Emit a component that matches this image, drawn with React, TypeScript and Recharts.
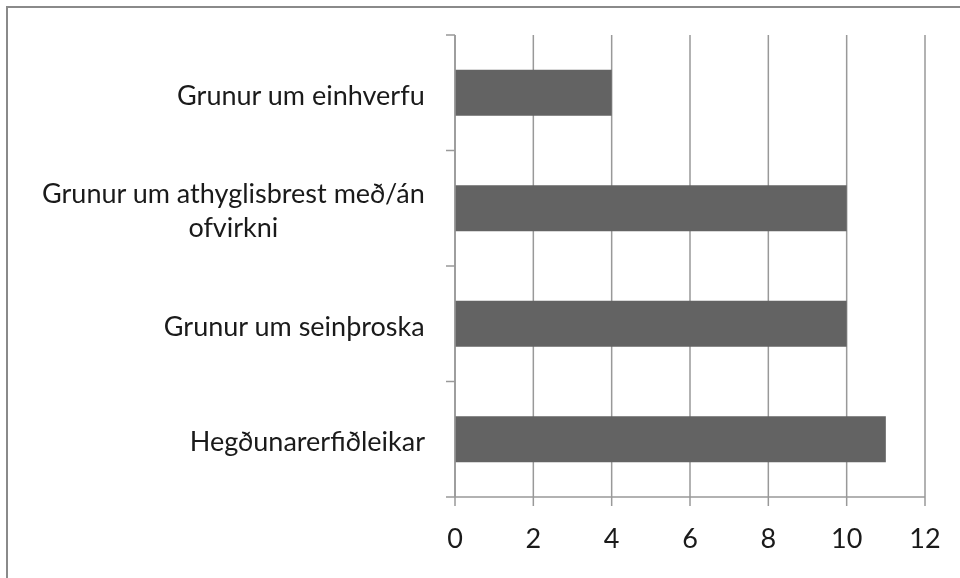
import { BarChart, Bar, XAxis, YAxis, CartesianGrid } from 'recharts';

const categories = [
  'Grunur um einhverfu',
  'Grunur um athyglisbrest með/án ofvirkni',
  'Grunur um seinþroska',
  'Hegðunarerfiðleikar',
];
const values = [4, 10, 10, 11];
const xTicks = [0, 2, 4, 6, 8, 10, 12];

const data = categories.map((name, i) => ({ name, value: values[i] }));

const FONT = 'Lato';
const FONT_SIZE = 27;
const TEXT = '#1a1a1a';
const LINE = '#999999';
const FRAME = '#8a8a8a';
const LABEL_GAP = 30; // from axis line to right edge of label
const TICK_LEN = 9;
const MAX_LABEL_W = 420;

let ctx: CanvasRenderingContext2D | null = null;
function measure(s: string) {
  if (!ctx) ctx = document.createElement('canvas').getContext('2d');
  if (!ctx) return s.length * FONT_SIZE * 0.5;
  ctx.font = `${FONT_SIZE}px ${FONT}`;
  return ctx.measureText(s).width;
}

function wrap(label: string) {
  const words = label.split(' ');
  const lines: string[] = [];
  let cur = '';
  words.forEach((w) => {
    const next = cur ? cur + ' ' + w : w;
    if (cur && measure(next) > MAX_LABEL_W) {
      lines.push(cur);
      cur = w;
    } else {
      cur = next;
    }
  });
  if (cur) lines.push(cur);
  return lines;
}

function CategoryTick(props: any) {
  const { x, y, payload, index } = props;
  const half = payload.offset || 57.75;
  const axisX = x + LABEL_GAP;
  const lines = wrap(String(payload.value));
  const widths = lines.map(measure);
  const cx = x - Math.max(...widths) / 2;
  const lineH = 34;
  const firstDy = 12 - ((lines.length - 1) * lineH) / 2;
  return (
    <g>
      <line x1={axisX - TICK_LEN} x2={axisX} y1={y - half} y2={y - half} stroke={LINE} strokeWidth={1.5} />
      {index === categories.length - 1 && (
        <line x1={axisX - TICK_LEN} x2={axisX} y1={y + half} y2={y + half} stroke={LINE} strokeWidth={1.5} />
      )}
      {lines.map((l, i) => (
        <text
          key={i}
          x={cx}
          y={y + firstDy + i * lineH}
          textAnchor="middle"
          fill={TEXT}
          fontSize={FONT_SIZE}
          fontFamily={FONT}
        >
          {l}
        </text>
      ))}
    </g>
  );
}

export default function App() {
  // the page keeps its 8px body margin, so the chart is laid out 8px smaller
  return (
    <div style={{ width: 952, height: 570, background: '#fff' }}>
      {/* outer frame of the picture; only its top and left edges are in view */}
      <div
        style={{
          position: 'fixed',
          left: 6,
          top: 6,
          width: 1000,
          height: 1000,
          borderTop: `2px solid ${FRAME}`,
          borderLeft: `2px solid ${FRAME}`,
          pointerEvents: 'none',
        }}
      />
      <BarChart
        width={952}
        height={570}
        data={data}
        layout="vertical"
        barCategoryGap="30%"
        margin={{ top: 27, right: 35, left: 0, bottom: 0 }}
      >
        <CartesianGrid horizontal={false} stroke={LINE} strokeWidth={1.5} />
        <XAxis
          type="number"
          domain={[0, 12]}
          ticks={xTicks}
          interval={0}
          height={81}
          tickSize={TICK_LEN}
          tickMargin={23}
          stroke={LINE}
          axisLine={{ stroke: LINE, strokeWidth: 1.5 }}
          tickLine={{ stroke: LINE, strokeWidth: 1.5 }}
          tick={{ fill: TEXT, fontSize: FONT_SIZE, fontFamily: FONT }}
        />
        <YAxis
          type="category"
          dataKey="name"
          width={447}
          interval={0}
          tickLine={false}
          tickSize={0}
          tickMargin={LABEL_GAP}
          axisLine={{ stroke: LINE, strokeWidth: 1.5 }}
          tick={<CategoryTick />}
        />
        <Bar dataKey="value" fill="#636363" isAnimationActive={false} />
      </BarChart>
    </div>
  );
}
